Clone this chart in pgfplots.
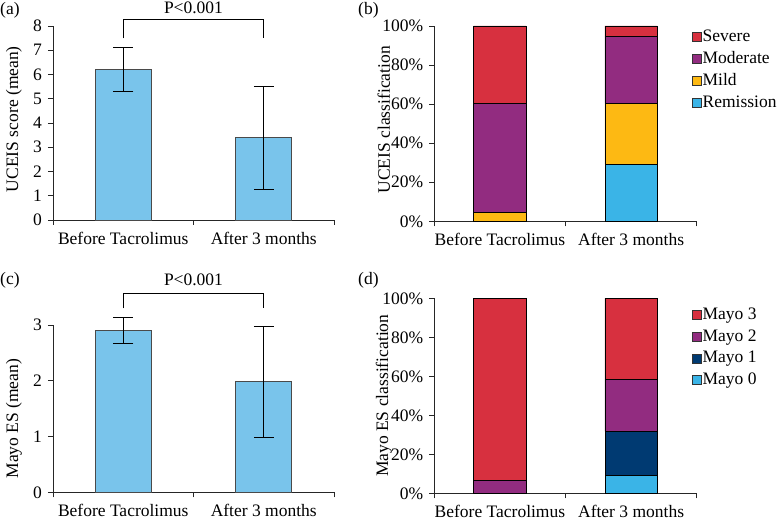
\documentclass[border=0pt]{standalone}
\usepackage{fontspec}
\setmainfont{Liberation Serif}
\usepackage{pgfplots}
\pgfplotsset{compat=1.18}
\definecolor{barblue}{HTML}{79C4EB}
\definecolor{bargray}{HTML}{4A4A4A}
\definecolor{cRed}{HTML}{D7303F}
\definecolor{cPur}{HTML}{922C80}
\definecolor{cYel}{HTML}{FDB913}
\definecolor{cLb}{HTML}{3AB4E7}
\definecolor{cNavy}{HTML}{003A72}
\pgfplotsset{
  base/.style={
    anchor=south west, scale only axis,
    xmin=-0.5, xmax=1.5,
    axis x line*=bottom, axis y line*=left,
    axis line style={-, black!85, line width=0.7pt},
    xtick={-0.5,0.5,1.5}, xticklabels={},
    extra x ticks={0,1},
    extra x tick labels={Before Tacrolimus, After 3 months},
    extra x tick style={tick style={draw=none}},
    tick align=outside, major tick length=5bp,
    tick style={black!85, line width=0.7pt},
    /pgf/number format/assume math mode=true,
    clip=false,
    ylabel style={anchor=center},
    xticklabel style={yshift=-1bp},
  },
  sq/.style={legend image code/.code={\draw[##1, draw=black!80, line width=0.5pt] (0bp,-4.5bp) rectangle (9bp,4.5bp);}},
}
\begin{document}
\fontsize{17.5bp}{20bp}\selectfont
\begin{tikzpicture}
\path[use as bounding box] (0bp,0bp) rectangle (779bp,521bp);
\node[anchor=west, inner sep=0] at (0bp,511bp) {(a)};
\node[anchor=west, inner sep=0] at (358bp,511bp) {(b)};
\node[anchor=west, inner sep=0] at (0bp,241bp) {(c)};
\node[anchor=west, inner sep=0] at (358bp,241bp) {(d)};
% (a)
\begin{axis}[base, at={(53bp,301bp)}, width=281bp, height=194bp,
  ymin=0, ymax=8, ytick={0,1,...,8}, ybar, bar width=0.4,
  ylabel={UCEIS score (mean)},
  ylabel style={at={(axis description cs:-0.139,0.52)}}]
\addplot[ybar, fill=barblue, draw=bargray, line width=0.8pt,
  error bars/.cd, y dir=both, y explicit,
  error bar style={black, line width=0.6pt},
  error mark options={rotate=90, mark size=10bp, black, line width=0.6pt}]
  coordinates {(0,6.21) +- (0,0.9) (1,3.39) +- (0,2.12)};
\draw[black, line width=0.6pt] (axis cs:0,7.49) -- (axis cs:0,8.28) -- (axis cs:1,8.28) -- (axis cs:1,7.49);
\node at (axis cs:0.5,8.74) {P<0.001};
\end{axis}
% (b)
\begin{axis}[base, at={(434.3bp,299.7bp)}, width=262.4bp, height=195.3bp,
  ymin=0, ymax=100, ytick={0,20,...,100},
  yticklabel={\pgfmathprintnumber{\tick}\%},
  ybar stacked, bar width=0.4,
  ylabel={UCEIS classification},
  ylabel style={at={(axis description cs:-0.192,0.52)}},
  reverse legend, legend cell align=left,
  legend style={at={(axis description cs:0.98,0.99)}, anchor=north west, draw=none, fill=none, inner sep=0pt, row sep=4.5bp, nodes={inner sep=1.5bp, xshift=2bp}}]
\addplot[sq, fill=cLb, draw=black, line width=0.6pt] coordinates {(0,0) (1,29.3)};
\addplot[sq, fill=cYel, draw=black, line width=0.6pt] coordinates {(0,4.7) (1,31.1)};
\addplot[sq, fill=cPur, draw=black, line width=0.6pt] coordinates {(0,55.7) (1,34.4)};
\addplot[sq, fill=cRed, draw=black, line width=0.6pt] coordinates {(0,39.6) (1,5.2)};
\legend{Remission, Mild, Moderate, Severe}
\end{axis}
% (c)
\begin{axis}[base, at={(53bp,28.7bp)}, width=281bp, height=167.3bp,
  ymin=0, ymax=3, ytick={0,1,2,3}, ybar, bar width=0.4,
  ylabel={Mayo ES (mean)},
  ylabel style={at={(axis description cs:-0.139,0.44)}}]
\addplot[ybar, fill=barblue, draw=bargray, line width=0.8pt,
  error bars/.cd, y dir=both, y explicit,
  error bar style={black, line width=0.6pt},
  error mark options={rotate=90, mark size=10bp, black, line width=0.6pt}]
  coordinates {(0,2.90) +- (0,0.23) (1,1.98) +- (0,1.0)};
\draw[black, line width=0.6pt] (axis cs:0,3.30) -- (axis cs:0,3.57) -- (axis cs:1,3.57) -- (axis cs:1,3.30);
\node at (axis cs:0.5,3.81) {P<0.001};
\end{axis}
% (d)
\begin{axis}[base, at={(434.3bp,27.7bp)}, width=262.4bp, height=195bp,
  ymin=0, ymax=100, ytick={0,20,...,100},
  yticklabel={\pgfmathprintnumber{\tick}\%},
  ybar stacked, bar width=0.4,
  ylabel={Mayo ES classification},
  ylabel style={at={(axis description cs:-0.192,0.5)}},
  reverse legend, legend cell align=left,
  legend style={at={(axis description cs:0.98,0.96)}, anchor=north west, draw=none, fill=none, inner sep=0pt, row sep=4.5bp, nodes={inner sep=1.5bp, xshift=2bp}}]
\addplot[sq, fill=cLb, draw=black, line width=0.6pt] coordinates {(0,0) (1,9.4)};
\addplot[sq, fill=cNavy, draw=black, line width=0.6pt] coordinates {(0,0) (1,22.4)};
\addplot[sq, fill=cPur, draw=black, line width=0.6pt] coordinates {(0,6.7) (1,26.8)};
\addplot[sq, fill=cRed, draw=black, line width=0.6pt] coordinates {(0,93.3) (1,41.4)};
\legend{Mayo 0, Mayo 1, Mayo 2, Mayo 3}
\end{axis}
\end{tikzpicture}
\end{document}
